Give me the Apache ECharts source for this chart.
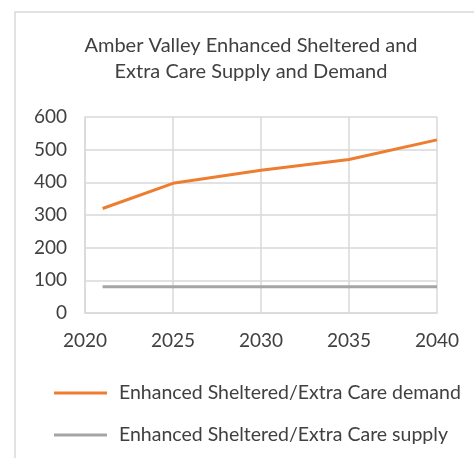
<!DOCTYPE html>
<html>
<head>
<meta charset="utf-8">
<script src="https://cdn.jsdelivr.net/npm/echarts@6/dist/echarts.min.js"></script>
<style>
  html, body { margin: 0; padding: 0; background: #fff; }
  #chart { width: 474px; height: 458px; }
</style>
</head>
<body>
<div id="chart"></div>
<script>
// data
var years = [2021, 2025, 2030, 2035, 2040];
var demand = [320, 397, 437, 470, 530];
var supplyYears = [2021, 2040];
var supply = [80, 80];
var seriesNames = ['Enhanced Sheltered/Extra Care demand', 'Enhanced Sheltered/Extra Care supply'];
var titleLines = ['Amber Valley Enhanced Sheltered and', 'Extra Care Supply and Demand'];

var font = 'Lato, Carlito, Calibri, sans-serif';
var textColor = '#404040';
var gridColor = '#d9d9d9';

function pairs(xs, ys) {
  return xs.map(function (x, i) { return [x, ys[i]]; });
}

var myChart = echarts.init(document.getElementById('chart'));
myChart.setOption({
  animation: false,
  title: {
    text: titleLines.join('\n'),
    left: 251,
    top: 33,
    textAlign: 'center',
    padding: 0,
    textStyle: {
      fontFamily: font,
      fontSize: 20,
      fontWeight: 'normal',
      color: textColor,
      lineHeight: 26
    }
  },
  graphic: [{
    // outer chart frame (cut off at right / bottom like the picture)
    type: 'rect',
    shape: { x: 15, y: 12, width: 500, height: 500 },
    style: { fill: 'none', stroke: gridColor, lineWidth: 1.5 },
    silent: true
  }],
  grid: {
    left: 85,
    right: 37,
    top: 117,
    bottom: 145
  },
  xAxis: {
    type: 'value',
    min: 2020,
    max: 2040,
    interval: 5,
    axisLine: { show: true, lineStyle: { color: gridColor, width: 1.5 } },
    axisTick: { show: false },
    splitLine: { show: true, lineStyle: { color: gridColor, width: 1.5 } },
    axisLabel: {
      margin: 18,
      fontFamily: font,
      fontSize: 19,
      color: textColor,
      formatter: function (v) { return String(v); }
    }
  },
  yAxis: {
    type: 'value',
    min: 0,
    max: 600,
    interval: 100,
    axisLine: { show: true, lineStyle: { color: gridColor, width: 1.5 } },
    axisTick: { show: false },
    splitLine: { show: true, lineStyle: { color: gridColor, width: 1.5 } },
    axisLabel: {
      margin: 18,
      fontFamily: font,
      fontSize: 19,
      color: textColor
    }
  },
  legend: {
    orient: 'vertical',
    left: 49,
    top: 378,
    icon: 'rect',
    itemWidth: 53,
    itemHeight: 3,
    itemGap: 22,
    data: seriesNames,
    textStyle: {
      fontFamily: font,
      fontSize: 19.5,
      color: textColor,
      lineHeight: 20,
      padding: [0, 0, 0, 7]
    }
  },
  series: [{
    name: seriesNames[0],
    type: 'line',
    data: pairs(years, demand),
    showSymbol: false,
    lineStyle: { color: '#ED7D31', width: 3 },
    itemStyle: { color: '#ED7D31' }
  }, {
    name: seriesNames[1],
    type: 'line',
    data: pairs(supplyYears, supply),
    showSymbol: false,
    lineStyle: { color: '#A5A5A5', width: 3 },
    itemStyle: { color: '#A5A5A5' }
  }]
});
</script>
</body>
</html>
